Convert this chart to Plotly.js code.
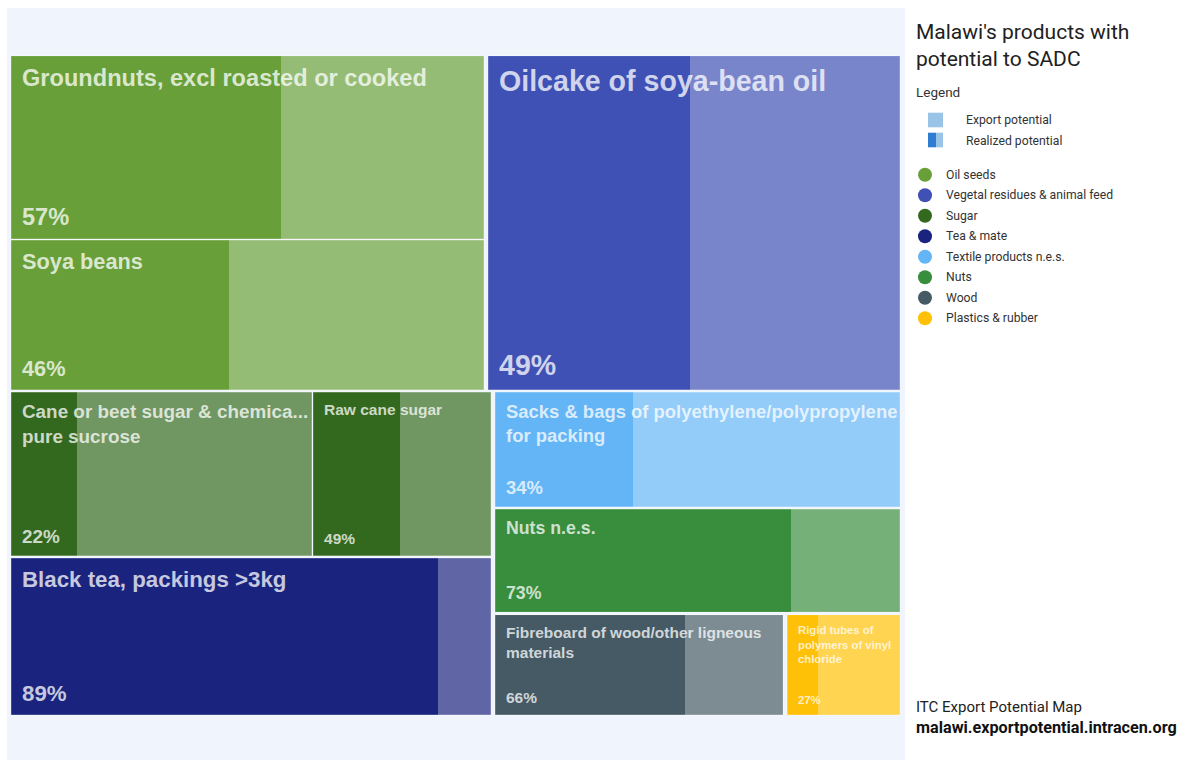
<!DOCTYPE html>
<html>
<head>
<meta charset="utf-8">
<script src="https://cdn.plot.ly/plotly-3.0.1.min.js"></script>
<style>html,body{margin:0;padding:0;background:#fff}#chart{width:1186px;height:760px}</style>
</head>
<body>
<div id="chart"></div>
<script>
// ---------------- DATA ----------------
const groups = ["Oil seeds", "Vegetal residues & animal feed", "Sugar", "Tea & mate",
                "Textile products n.e.s.", "Nuts", "Wood", "Plastics & rubber"];
const groupColors = ["#689F38", "#3F51B5", "#33691E", "#1A237E",
                     "#64B5F6", "#388E3C", "#455A64", "#FFC107"];
const products = ["Groundnuts, excl roasted or cooked", "Soya beans", "Oilcake of soya-bean oil",
                  "Cane or beet sugar & chemically pure sucrose", "Raw cane sugar",
                  "Black tea, packings >3kg", "Sacks & bags of polyethylene/polypropylene for packing",
                  "Nuts n.e.s.", "Fibreboard of wood/other ligneous materials",
                  "Rigid tubes of polymers of vinyl chloride"];
const productLabels = ["Groundnuts, excl roasted or cooked", "Soya beans", "Oilcake of soya-bean oil",
                  "Cane or beet sugar & chemica...<br>pure sucrose", "Raw cane sugar",
                  "Black tea, packings >3kg", "Sacks & bags of polyethylene/polypropylene<br>for packing",
                  "Nuts n.e.s.", "Fibreboard of wood/other ligneous<br>materials",
                  "Rigid tubes of<br>polymers of vinyl<br>chloride"];
const productGroup = [0, 0, 1, 2, 2, 3, 4, 5, 6, 7];
const exportPotential = [14.94, 12.22, 23.69, 8.53, 5.06, 13.05, 8.10, 7.30, 5.08, 2.03];
const realizedPct = [57, 46, 49, 22, 49, 89, 34, 73, 66, 27];
const titleText = "Malawi's products with<br>potential to SADC";
const legendKeys = ["Export potential", "Realized potential"];

// ---------------- LAYOUT (binary treemap) ----------------
const AREA = {x0: 9, y0: 54.55, x1: 902, y1: 716.15};
const GX = 1.5, GY = 0.65, PX = 0.5, LR_RATIO = 2.3;

function binary(items, rect, out) {
  const sums = [0];
  items.forEach(it => sums.push(sums[sums.length - 1] + it.value));
  function part(i, j, value, x0, y0, x1, y1) {
    if (i >= j - 1) { out.push({item: items[i], x0, y0, x1, y1}); return; }
    const off = sums[i], target = value / 2 + off;
    let k = i + 1, hi = j - 1;
    while (k < hi) { const mid = (k + hi) >>> 1; if (sums[mid] < target) k = mid + 1; else hi = mid; }
    if ((target - sums[k - 1]) < (sums[k] - target) && i + 1 < k) --k;
    const vl = sums[k] - off, vr = value - vl;
    if ((x1 - x0) > LR_RATIO * (y1 - y0)) {
      const xk = x0 + (x1 - x0) * vl / value;
      part(i, k, vl, x0, y0, xk, y1); part(k, j, vr, xk, y0, x1, y1);
    } else {
      const yk = y0 + (y1 - y0) * vl / value;
      part(i, k, vl, x0, y0, x1, yk); part(k, j, vr, x0, yk, x1, y1);
    }
  }
  part(0, items.length, sums[items.length], rect.x0, rect.y0, rect.x1, rect.y1);
}

const prodIdx = products.map((_, i) => i);
const groupItems = groups.map((g, gi) => ({
  gi, value: prodIdx.filter(i => productGroup[i] === gi).reduce((s, i) => s + exportPotential[i], 0)
})).sort((a, b) => b.value - a.value);
const groupRects = [];
binary(groupItems, AREA, groupRects);
const tiles = [];
groupRects.forEach(gr => {
  const inner = {x0: gr.x0 + GX, x1: gr.x1 - GX, y0: gr.y0 + GY, y1: gr.y1 - GY};
  const items = prodIdx.filter(i => productGroup[i] === gr.item.gi)
    .map(i => ({pi: i, value: exportPotential[i]})).sort((a, b) => b.value - a.value);
  const rs = [];
  binary(items, inner, rs);
  rs.forEach(r => tiles.push({pi: r.item.pi, x0: r.x0 + PX, x1: r.x1 - PX, y0: r.y0 + PX, y1: r.y1 - PX}));
});

function rgb(h) { const n = parseInt(h.slice(1), 16); return [(n >> 16) & 255, (n >> 8) & 255, n & 255]; }
function tint(h, a) { return 'rgb(' + rgb(h).map(v => Math.round(v * a + 255 * (1 - a))).join(',') + ')'; }

const W = t => t.x1 - t.x0, H = t => t.y1 - t.y0;
const colOf = t => groupColors[productGroup[t.pi]];

const lightTrace = {
  type: 'bar', x: tiles.map(t => t.x0 + W(t) / 2), width: tiles.map(W),
  base: tiles.map(t => t.y0), y: tiles.map(H),
  marker: {color: tiles.map(t => tint(colOf(t), 0.7)), line: {width: 0}},
  hoverinfo: 'skip', showlegend: false
};
const darkTrace = {
  type: 'bar', x: tiles.map(t => t.x0 + W(t) * realizedPct[t.pi] / 100 / 2),
  width: tiles.map(t => W(t) * realizedPct[t.pi] / 100),
  base: tiles.map(t => t.y0), y: tiles.map(H),
  marker: {color: tiles.map(colOf), line: {width: 0}},
  hoverinfo: 'skip', showlegend: false
};
const outlineTrace = {
  type: 'bar', x: tiles.map(t => t.x0 + W(t) / 2), width: tiles.map(W),
  base: tiles.map(t => t.y0), y: tiles.map(H),
  marker: {color: 'rgba(0,0,0,0)', line: {width: 1, color: 'rgba(255,255,255,0.35)'}},
  hoverinfo: 'skip', showlegend: false
};

// legend circles
const LEG_X = 925, LEG_Y0 = 174.8, LEG_DY = 20.5;
const legendTrace = {
  type: 'scatter', mode: 'markers',
  x: groups.map(() => LEG_X), y: groups.map((g, i) => LEG_Y0 + i * LEG_DY),
  marker: {size: 14, color: groupColors, line: {width: 0}},
  hoverinfo: 'skip', showlegend: false, cliponaxis: false
};

const annotations = [];
const LBL_FONT = 'Liberation Sans, Arial, sans-serif';
tiles.forEach(t => {
  const f = 4.4 + 0.0652 * Math.sqrt(W(t) * H(t));
  annotations.push({
    x: t.x0 + 9, y: t.y0 + 7, xref: 'x', yref: 'y', xanchor: 'left', yanchor: 'top',
    text: productLabels[t.pi], showarrow: false, align: 'left',
    font: {family: LBL_FONT, size: f, color: 'rgba(255,255,255,0.76)', weight: 'bold'}
  });
  annotations.push({
    x: t.x0 + 9, y: t.y1 - 7, xref: 'x', yref: 'y', xanchor: 'left', yanchor: 'bottom',
    text: realizedPct[t.pi] + '%', showarrow: false, align: 'left',
    font: {family: LBL_FONT, size: f, color: 'rgba(255,255,255,0.76)', weight: 'bold'}
  });
});
const RF = 'Roboto, sans-serif';
annotations.push({x: 914, y: 45.5, xref: 'x', yref: 'y', xanchor: 'left', yanchor: 'middle', align: 'left',
  text: titleText, showarrow: false, font: {family: RF, size: 21, color: '#212121'}});
annotations.push({x: 914, y: 92, xref: 'x', yref: 'y', xanchor: 'left', yanchor: 'middle', align: 'left',
  text: 'Legend', showarrow: false, font: {family: RF, size: 13.5, color: '#333'}});
legendKeys.forEach((k, i) => annotations.push({x: 964, y: 120 + i * 20.5, xref: 'x', yref: 'y',
  xanchor: 'left', yanchor: 'middle', text: k, showarrow: false, font: {family: RF, size: 12.2, color: '#333'}}));
groups.forEach((g, i) => annotations.push({x: 944, y: LEG_Y0 + i * LEG_DY, xref: 'x', yref: 'y',
  xanchor: 'left', yanchor: 'middle', text: g, showarrow: false, font: {family: RF, size: 12.2, color: '#333'}}));
annotations.push({x: 914, y: 707, xref: 'x', yref: 'y', xanchor: 'left', yanchor: 'middle',
  text: 'ITC Export Potential Map', showarrow: false, font: {family: RF, size: 15, color: '#222'}});
annotations.push({x: 914, y: 727, xref: 'x', yref: 'y', xanchor: 'left', yanchor: 'middle',
  text: '<b>malawi.exportpotential.intracen.org</b>', showarrow: false, font: {family: RF, size: 16.2, color: '#111'}});

const shapes = [
  {type: 'rect', xref: 'x', yref: 'y', x0: 7, x1: 905, y0: 8, y1: 760, fillcolor: '#F0F5FD', line: {width: 0}, layer: 'below'},
  {type: 'rect', xref: 'x', yref: 'y', x0: 928, x1: 943, y0: 112.7, y1: 127.3, fillcolor: '#9AC3E8', line: {width: 0}},
  {type: 'rect', xref: 'x', yref: 'y', x0: 928, x1: 936, y0: 132.7, y1: 147.3, fillcolor: '#2F7DD0', line: {width: 0}},
  {type: 'rect', xref: 'x', yref: 'y', x0: 936, x1: 943, y0: 132.7, y1: 147.3, fillcolor: '#9AC3E8', line: {width: 0}}
];

const layout = {
  width: 1186, height: 760, autosize: false,
  margin: {l: 0, r: 0, t: 0, b: 0, pad: 0},
  paper_bgcolor: '#ffffff', plot_bgcolor: '#ffffff',
  barmode: 'overlay', bargap: 0, showlegend: false,
  xaxis: {range: [0, 1186], visible: false, fixedrange: true},
  yaxis: {range: [760, 0], visible: false, fixedrange: true},
  shapes, annotations, hovermode: false
};
Plotly.newPlot('chart', [lightTrace, darkTrace, outlineTrace, legendTrace], layout, {displayModeBar: false, staticPlot: true});
</script>
</body>
</html>
